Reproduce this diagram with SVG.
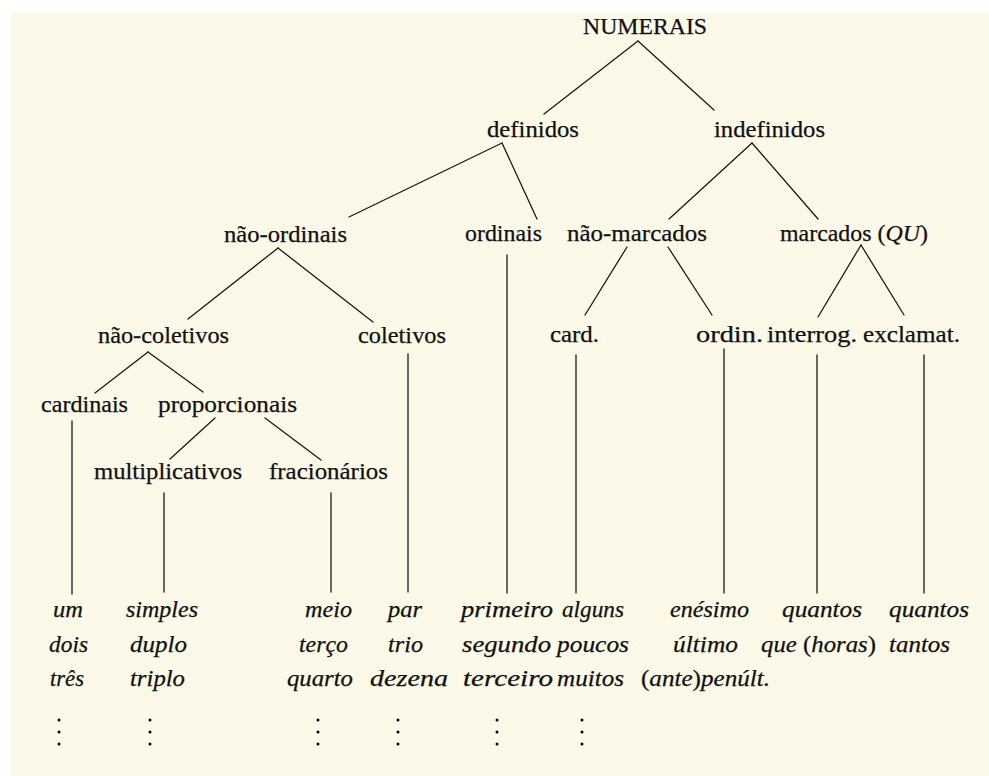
<svg xmlns="http://www.w3.org/2000/svg" width="989" height="776" viewBox="0 0 989 776">
<style>
text{font-family:"Liberation Serif","Times New Roman",Times,serif;font-size:23px;fill:#111;stroke:#111;stroke-width:0.25}
.it{font-style:italic}
.up{font-style:normal}
.c line{stroke:#1a1a1a;stroke-width:1.3;stroke-linecap:round}
.d circle{fill:#1a1a1a}
</style>
<defs>
<g id="dots"><circle cx="0" cy="720" r="1.5"/><circle cx="0" cy="732" r="1.5"/><circle cx="0" cy="744" r="1.5"/></g>
</defs>
<rect x="0" y="0" width="989" height="776" fill="#ffffff"/>
<rect x="11" y="12" width="978" height="764" fill="#fcf9e8"/>

<g class="c" id="connectors">
<line x1="638" y1="41" x2="544" y2="114"/>
<line x1="638" y1="41" x2="714" y2="110"/>
<line x1="502" y1="143" x2="349" y2="217"/>
<line x1="502" y1="143" x2="537" y2="219"/>
<line x1="752" y1="143" x2="669" y2="219"/>
<line x1="752" y1="143" x2="818" y2="219"/>
<line x1="278" y1="248" x2="188" y2="319"/>
<line x1="278" y1="248" x2="373" y2="322"/>
<line x1="148" y1="352" x2="95" y2="393"/>
<line x1="148" y1="352" x2="203" y2="392"/>
<line x1="215" y1="418" x2="170" y2="459"/>
<line x1="265" y1="418" x2="321" y2="460"/>
<line x1="627" y1="247" x2="585" y2="315"/>
<line x1="668" y1="247" x2="712" y2="315"/>
<line x1="861" y1="245" x2="818" y2="317"/>
<line x1="861" y1="245" x2="904" y2="315"/>
<line x1="72" y1="421" x2="72" y2="594"/>
<line x1="164" y1="493" x2="164" y2="592"/>
<line x1="331" y1="493" x2="331" y2="592"/>
<line x1="408" y1="354" x2="408" y2="592"/>
<line x1="507" y1="255" x2="507" y2="593"/>
<line x1="576" y1="355" x2="576" y2="593"/>
<line x1="724" y1="349" x2="724" y2="593"/>
<line x1="817" y1="355" x2="817" y2="593"/>
<line x1="924" y1="355" x2="924" y2="593"/>
</g>

<g id="numerais"><text x="583" y="34" textLength="124" lengthAdjust="spacingAndGlyphs">NUMERAIS</text></g>
<g id="definidos"><text x="487" y="137" textLength="92" lengthAdjust="spacingAndGlyphs">definidos</text></g>
<g id="indefinidos"><text x="714" y="137" textLength="111" lengthAdjust="spacingAndGlyphs">indefinidos</text></g>
<g id="nao-ordinais"><text x="224" y="242" textLength="123" lengthAdjust="spacingAndGlyphs">não-ordinais</text></g>
<g id="ordinais"><text x="465" y="241" textLength="77" lengthAdjust="spacingAndGlyphs">ordinais</text></g>
<g id="nao-marcados"><text x="567" y="241" textLength="140" lengthAdjust="spacingAndGlyphs">não-marcados</text></g>
<g id="marcados"><text x="780" y="241" textLength="148" lengthAdjust="spacingAndGlyphs">marcados (<tspan class="it">QU</tspan>)</text></g>
<g id="nao-coletivos"><text x="98" y="343" textLength="131" lengthAdjust="spacingAndGlyphs">não-coletivos</text></g>
<g id="coletivos"><text x="358" y="343" textLength="88" lengthAdjust="spacingAndGlyphs">coletivos</text></g>
<g id="card"><text x="550" y="342" textLength="49" lengthAdjust="spacingAndGlyphs">card.</text></g>
<g id="ordin"><text x="696" y="342" textLength="67" lengthAdjust="spacingAndGlyphs">ordin.</text></g>
<g id="interrog"><text x="767" y="342" textLength="90" lengthAdjust="spacingAndGlyphs">interrog.</text></g>
<g id="exclamat"><text x="863" y="342" textLength="97" lengthAdjust="spacingAndGlyphs">exclamat.</text></g>
<g id="cardinais"><text x="41" y="412" textLength="87" lengthAdjust="spacingAndGlyphs">cardinais</text></g>
<g id="proporcionais"><text x="158" y="412" textLength="139" lengthAdjust="spacingAndGlyphs">proporcionais</text></g>
<g id="multiplicativos"><text x="94" y="479" textLength="148" lengthAdjust="spacingAndGlyphs">multiplicativos</text></g>
<g id="fracionarios"><text x="269" y="479" textLength="119" lengthAdjust="spacingAndGlyphs">fracionários</text></g>

<g id="leaf-cardinais" class="d">
<text class="it" x="53" y="617" textLength="30" lengthAdjust="spacingAndGlyphs">um</text>
<text class="it" x="49" y="652" textLength="39" lengthAdjust="spacingAndGlyphs">dois</text>
<text class="it" x="50" y="686" textLength="34" lengthAdjust="spacingAndGlyphs">três</text>
<use href="#dots" x="59"/>
</g>
<g id="leaf-multiplicativos" class="d">
<text class="it" x="126" y="617" textLength="72" lengthAdjust="spacingAndGlyphs">simples</text>
<text class="it" x="130" y="652" textLength="57" lengthAdjust="spacingAndGlyphs">duplo</text>
<text class="it" x="130" y="686" textLength="55" lengthAdjust="spacingAndGlyphs">triplo</text>
<use href="#dots" x="150"/>
</g>
<g id="leaf-fracionarios" class="d">
<text class="it" x="305" y="617" textLength="47" lengthAdjust="spacingAndGlyphs">meio</text>
<text class="it" x="299" y="652" textLength="49" lengthAdjust="spacingAndGlyphs">terço</text>
<text class="it" x="287" y="686" textLength="66" lengthAdjust="spacingAndGlyphs">quarto</text>
<use href="#dots" x="318"/>
</g>
<g id="leaf-coletivos" class="d">
<text class="it" x="388" y="617" textLength="34" lengthAdjust="spacingAndGlyphs">par</text>
<text class="it" x="388" y="652" textLength="35" lengthAdjust="spacingAndGlyphs">trio</text>
<text class="it" x="370" y="686" textLength="78" lengthAdjust="spacingAndGlyphs">dezena</text>
<use href="#dots" x="398"/>
</g>
<g id="leaf-ordinais" class="d">
<text class="it" x="461" y="617" textLength="92" lengthAdjust="spacingAndGlyphs">primeiro</text>
<text class="it" x="462" y="652" textLength="89" lengthAdjust="spacingAndGlyphs">segundo</text>
<text class="it" x="463" y="686" textLength="90" lengthAdjust="spacingAndGlyphs">terceiro</text>
<use href="#dots" x="497"/>
</g>
<g id="leaf-card" class="d">
<text class="it" x="562" y="617" textLength="62" lengthAdjust="spacingAndGlyphs">alguns</text>
<text class="it" x="557" y="652" textLength="72" lengthAdjust="spacingAndGlyphs">poucos</text>
<text class="it" x="557" y="686" textLength="67" lengthAdjust="spacingAndGlyphs">muitos</text>
<use href="#dots" x="582"/>
</g>
<g id="leaf-ordin">
<text class="it" x="670" y="617" textLength="79" lengthAdjust="spacingAndGlyphs">enésimo</text>
<text class="it" x="673" y="652" textLength="65" lengthAdjust="spacingAndGlyphs">último</text>
<text class="it" x="641" y="686" textLength="129" lengthAdjust="spacingAndGlyphs"><tspan class="up">(</tspan>ante<tspan class="up">)</tspan>penúlt.</text>
</g>
<g id="leaf-interrog">
<text class="it" x="782" y="617" textLength="80" lengthAdjust="spacingAndGlyphs">quantos</text>
<text class="it" x="761" y="652" textLength="115" lengthAdjust="spacingAndGlyphs">que <tspan class="up">(</tspan>horas<tspan class="up">)</tspan></text>
</g>
<g id="leaf-exclamat">
<text class="it" x="889" y="617" textLength="80" lengthAdjust="spacingAndGlyphs">quantos</text>
<text class="it" x="889" y="652" textLength="61" lengthAdjust="spacingAndGlyphs">tantos</text>
</g>
</svg>
